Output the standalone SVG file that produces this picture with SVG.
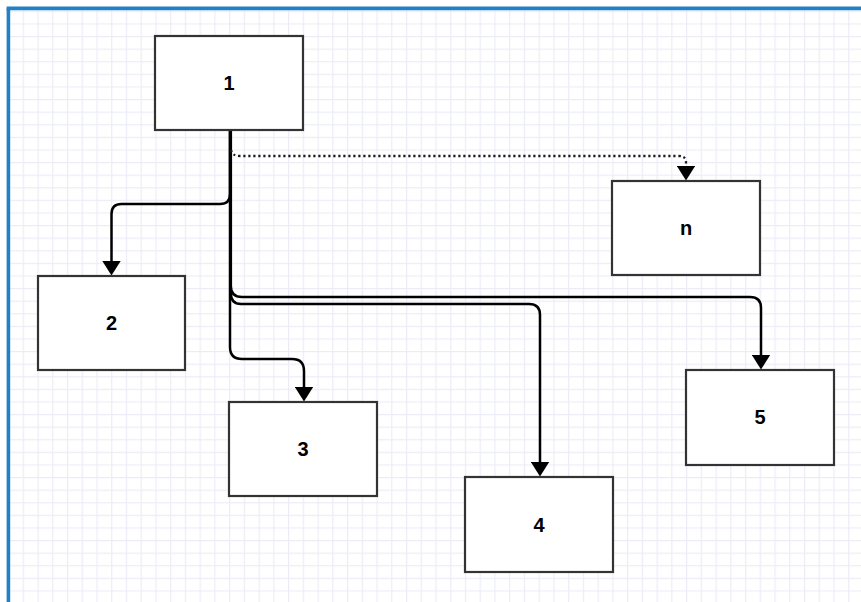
<svg xmlns="http://www.w3.org/2000/svg" width="861" height="602" viewBox="0 0 861 602">
  <style>
    .box { fill: #ffffff; stroke: #333333; stroke-width: 2.2; }
    .lbl { font-family: "Liberation Sans", Arial, sans-serif; font-weight: bold; font-size: 20px; fill: #000000; text-anchor: middle; }
    .edge { fill: none; stroke: #000000; stroke-width: 2.5; }
    .dotted { fill: none; stroke: #1a1a1a; stroke-width: 2.3; stroke-dasharray: 2.2 2.8; }
  </style>
  <defs>
    <pattern id="grid" patternUnits="userSpaceOnUse" x="22.7" y="10.8" width="14.74" height="12.6">
      <line x1="0.6" y1="0" x2="0.6" y2="12.6" stroke="#ececf7" stroke-width="1.2"/>
      <line x1="0" y1="0.6" x2="14.74" y2="0.6" stroke="#ececf7" stroke-width="1.2"/>
    </pattern>
    <marker id="arrow" markerUnits="userSpaceOnUse" viewBox="0 0 15 19" refX="0.5" refY="9.5" markerWidth="15" markerHeight="19" orient="auto">
      <path d="M0,0 L15,9.5 L0,19 Z" fill="#000000"/>
    </marker>
  </defs>
  <rect x="0" y="0" width="861" height="602" fill="#ffffff"/>
  <rect x="10" y="10" width="851" height="592" fill="url(#grid)"/>
  <g id="frame">
    <line x1="8.4" y1="602" x2="8.4" y2="8.4" stroke="#2380c6" stroke-width="3.6"/>
    <line x1="6.6" y1="8.4" x2="861" y2="8.4" stroke="#2380c6" stroke-width="3.6"/>
  </g>
  <g id="connectors">
    <path class="edge" d="M230,131 L230,194 Q230,204 220,204 L121.5,204 Q111.5,204 111.5,214 L111.5,261" marker-end="url(#arrow)"/>
    <path class="edge" d="M230,131 L230,347 Q230,359 242,359 L292,359 Q304,359 304,371 L304,387" marker-end="url(#arrow)"/>
    <path class="edge" d="M230.8,131 L230.8,293 Q230.8,304 241,304 L529,304 Q540,304 540,315 L540,462" marker-end="url(#arrow)"/>
    <path class="edge" d="M230.8,131 L230.8,286 Q230.8,297 242,297 L750,297 Q761,297 761,308 L761,355" marker-end="url(#arrow)"/>
    <path class="dotted" d="M231,150 Q232,156 240,156 L678,156 Q686,156 686,162 L686,166" marker-end="url(#arrow)"/>
  </g>
  <g id="node-1">
    <rect class="box" x="155" y="36" width="148" height="94"/>
    <text class="lbl" x="229" y="90">1</text>
  </g>
  <g id="node-n">
    <rect class="box" x="612" y="181" width="148" height="94"/>
    <text class="lbl" x="686" y="235">n</text>
  </g>
  <g id="node-2">
    <rect class="box" x="38" y="276" width="147" height="94"/>
    <text class="lbl" x="111.5" y="330">2</text>
  </g>
  <g id="node-3">
    <rect class="box" x="229" y="402" width="148" height="94"/>
    <text class="lbl" x="303" y="456">3</text>
  </g>
  <g id="node-4">
    <rect class="box" x="465" y="477" width="148" height="95"/>
    <text class="lbl" x="539" y="532">4</text>
  </g>
  <g id="node-5">
    <rect class="box" x="686" y="370" width="148" height="95"/>
    <text class="lbl" x="760" y="424">5</text>
  </g>
</svg>
